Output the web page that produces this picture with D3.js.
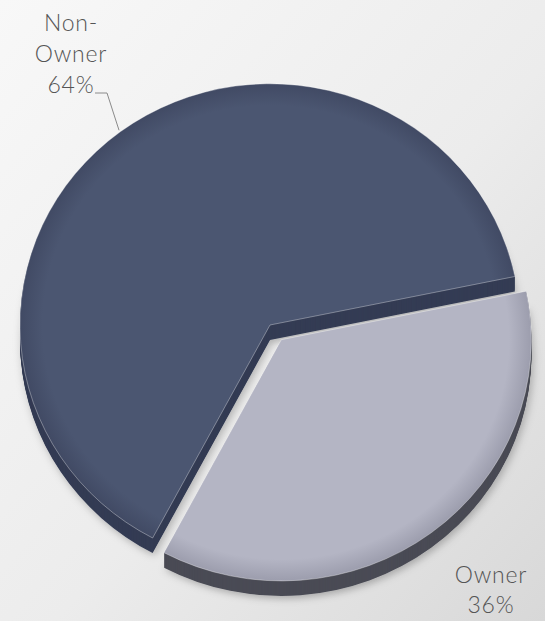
<!DOCTYPE html>
<html>
<head>
<meta charset="utf-8">
<script src="https://cdn.jsdelivr.net/npm/d3@7"></script>
<style>
  html, body { margin: 0; padding: 0; background: #ececec; }
  svg { display: block; }
  .lbl { font-family: Lato, "Open Sans", sans-serif; font-size: 23px; font-weight: 300; letter-spacing: 0.8px; fill: #555; }
</style>
</head>
<body>
<svg id="chart" width="545" height="621"></svg>
<script>
// Ownership split
const categories = ["Non-Owner", "Owner"];
const shares = [64, 36];
const labelLines = [["Non-", "Owner"], ["Owner"]];

// Slice styling
const topColors  = ["#4b5671", "#b4b5c4"];
const edgeColors = ["#414a64", "#9c9dad"];
const sideColors = ["#343c54", "#4a4b55"];
const explode    = [0, 19];

const W = 545, H = 621;
const cx = 270, cy = 325;
const radius = 250, tilt = 0.965, depth = 15;
const rad = a => a * Math.PI / 180;
const start = rad(208);

const svg = d3.select("#chart");
const defs = svg.append("defs");

const bg = defs.append("linearGradient").attr("id", "bg")
  .attr("x1", "0").attr("y1", "0").attr("x2", "1").attr("y2", "1");
bg.append("stop").attr("offset", "0%").attr("stop-color", "#f8f8f8");
bg.append("stop").attr("offset", "55%").attr("stop-color", "#ececec");
bg.append("stop").attr("offset", "100%").attr("stop-color", "#d8d8d8");

const shadow = defs.append("filter").attr("id", "shadow")
  .attr("x", "-20%").attr("y", "-20%").attr("width", "140%").attr("height", "140%");
shadow.append("feDropShadow").attr("dx", 2).attr("dy", 3)
  .attr("stdDeviation", 4).attr("flood-color", "#000").attr("flood-opacity", 0.25);

categories.forEach((c, i) => {
  const g = defs.append("radialGradient").attr("id", "face" + i)
    .attr("gradientUnits", "userSpaceOnUse")
    .attr("cx", 0).attr("cy", 0).attr("r", radius);
  g.append("stop").attr("offset", "0%").attr("stop-color", topColors[i]);
  g.append("stop").attr("offset", "91%").attr("stop-color", topColors[i]);
  g.append("stop").attr("offset", "100%").attr("stop-color", edgeColors[i]);
});

svg.append("rect").attr("width", W).attr("height", H).attr("fill", "url(#bg)");

const pie = d3.pie().value(d => d).sort(null)
  .startAngle(start).endAngle(start + 2 * Math.PI);
const arcs = pie(shares);
const arc = d3.arc().innerRadius(0).outerRadius(radius);

const pieG = svg.append("g").attr("transform", `translate(${cx},${cy})`);

arcs.forEach((d, i) => {
  const mid = (d.startAngle + d.endAngle) / 2;
  const ox = explode[i] * Math.sin(mid);
  const oy = -explode[i] * Math.cos(mid) * tilt;
  const g = pieG.append("g").attr("transform", `translate(${ox},${oy})`);

  // extruded side, built up from stacked copies of the slice outline
  for (let k = depth; k >= 1; k--) {
    g.append("path")
      .attr("d", arc(d))
      .attr("transform", `translate(0,${k}) scale(1,${tilt})`)
      .attr("fill", sideColors[i])
      .attr("filter", k === depth ? "url(#shadow)" : null);
  }

  // top face
  g.append("path")
    .attr("d", arc(d))
    .attr("transform", `scale(1,${tilt})`)
    .attr("fill", `url(#face${i})`)
    .attr("stroke", "rgba(255,255,255,0.35)")
    .attr("stroke-width", 1)
    .attr("stroke-linejoin", "round");
});

// Non-Owner label with leader line to the slice edge
{
  const d = arcs[0];
  const mid = (d.startAngle + d.endAngle) / 2;
  const ex = cx + (radius + 2) * Math.sin(mid);
  const ey = cy - (radius + 2) * Math.cos(mid) * tilt;
  const lx = 95, ly = 93;
  svg.append("polyline")
    .attr("points", [[lx, ly], [lx + 12, ly], [ex, ey]].map(p => p.join(",")).join(" "))
    .attr("fill", "none").attr("stroke", "#8a8a8a").attr("stroke-width", 1);

  const t = svg.append("text").attr("class", "lbl").attr("text-anchor", "middle");
  const lines = labelLines[0].concat([shares[0] + "%"]);
  lines.forEach((s, j) => {
    t.append("tspan").attr("x", 71).attr("y", 31 + j * 31).text(s);
  });
}

// Owner label
{
  const t = svg.append("text").attr("class", "lbl").attr("text-anchor", "middle");
  const lines = labelLines[1].concat([shares[1] + "%"]);
  lines.forEach((s, j) => {
    t.append("tspan").attr("x", 491).attr("y", 583 + j * 30).text(s);
  });
}
</script>
</body>
</html>
